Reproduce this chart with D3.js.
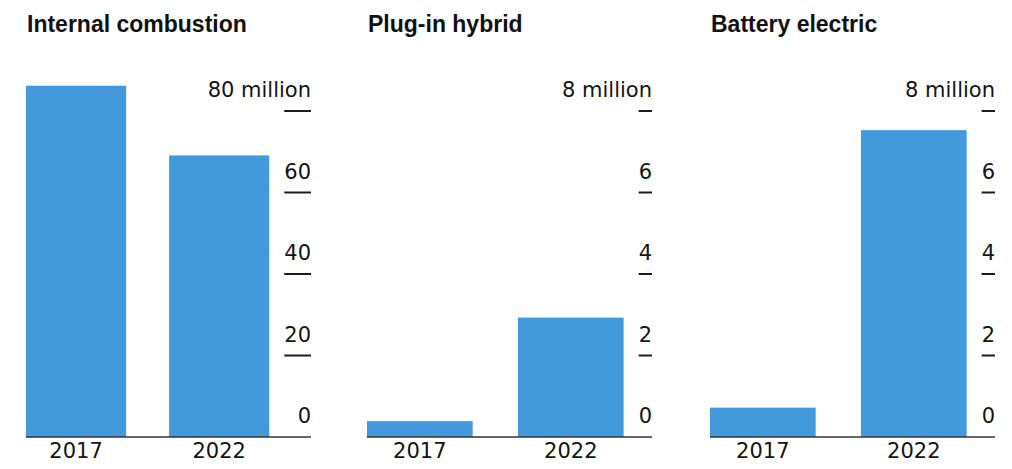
<!DOCTYPE html>
<html>
<head>
<meta charset="utf-8">
<script src="https://cdn.jsdelivr.net/npm/d3@7"></script>
<style>
  html, body { margin: 0; padding: 0; background: #fff; }
  svg { display: block; }
  .title { font-family: "Liberation Sans", Arial, sans-serif; font-weight: bold; font-size: 23px; fill: #111; }
  .tick-label, .year-label { font-family: "DejaVu Sans", sans-serif; font-size: 21px; fill: #141414; }
</style>
</head>
<body>
<svg id="chart" width="1012" height="469"></svg>
<script>
// Datos (millones de vehiculos)
const YEARS = ["2017", "2022"];
const PANEL_TITLES = ["Internal combustion", "Plug-in hybrid", "Battery electric"];
const COMBUSTION_VALUES = [86.2, 69.1];
const PLUGIN_VALUES = [0.39, 2.93];
const BATTERY_VALUES = [0.72, 7.53];
const COMBUSTION_TICKS = [0, 20, 40, 60, 80];
const EV_TICKS = [0, 2, 4, 6, 8];
const UNIT = "million";

const panels = [
  { title: PANEL_TITLES[0], values: COMBUSTION_VALUES, ticks: COMBUSTION_TICKS },
  { title: PANEL_TITLES[1], values: PLUGIN_VALUES, ticks: EV_TICKS },
  { title: PANEL_TITLES[2], values: BATTERY_VALUES, ticks: EV_TICKS }
];

// Layout
const PANEL_LEFT = [26, 367, 710];
const PANEL_W = 285;
const BASE_Y = 437, TOP_Y = 111;
const BAR_COLOR = "#4299dc";
const INK = "#1c1c1c";

const svg = d3.select("#chart");

// Ancho de un texto con la clase dada
function textWidth(g, cls, str) {
  const tmp = g.append("text").attr("class", cls).text(str);
  const w = tmp.node().getComputedTextLength();
  tmp.remove();
  return w;
}

panels.forEach((p, i) => {
  const g = svg.append("g").attr("transform", `translate(${PANEL_LEFT[i]},0)`);

  // Titulo
  g.append("text").attr("class", "title")
    .attr("x", 1).attr("y", 32)
    .text(p.title);

  const maxTick = d3.max(p.ticks);
  const y = d3.scaleLinear().domain([0, maxTick]).range([BASE_Y, TOP_Y]);

  // El hueco del eje depende del numero mas ancho
  const gutter = textWidth(g, "tick-label", String(maxTick)) + 15;

  const x = d3.scaleBand()
    .domain(YEARS)
    .range([0, PANEL_W - gutter])
    .paddingInner(0.3)
    .paddingOuter(0);

  // Barras
  g.selectAll("rect.bar")
    .data(YEARS.map((yr, k) => ({ yr, v: p.values[k] })))
    .join("rect")
    .attr("class", "bar")
    .attr("x", d => x(d.yr))
    .attr("width", x.bandwidth())
    .attr("y", d => y(d.v))
    .attr("height", d => y(0) - y(d.v))
    .attr("fill", BAR_COLOR);

  // Linea base
  g.append("line")
    .attr("x1", 0).attr("x2", PANEL_W)
    .attr("y1", y(0)).attr("y2", y(0))
    .attr("stroke", "#333").attr("stroke-width", 1.6);

  // Etiquetas de años
  g.selectAll("text.year-label")
    .data(YEARS)
    .join("text")
    .attr("class", "year-label")
    .attr("x", d => x(d) + x.bandwidth() / 2)
    .attr("y", 458)
    .attr("text-anchor", "middle")
    .text(d => d);

  // Eje a la derecha: numero encima de una raya corta
  const ticks = g.selectAll("g.tick")
    .data(p.ticks)
    .join("g")
    .attr("class", "tick")
    .attr("transform", d => `translate(${PANEL_W},${y(d)})`);

  ticks.append("text")
    .attr("class", "tick-label")
    .attr("text-anchor", "end")
    .attr("y", -14)
    .text(d => d === maxTick ? `${d} ${UNIT}` : d);

  ticks.filter(d => d !== 0).append("line")
    .attr("x1", d => -textWidth(g, "tick-label", String(d)))
    .attr("x2", 0)
    .attr("stroke", INK).attr("stroke-width", 2);
});
</script>
</body>
</html>
